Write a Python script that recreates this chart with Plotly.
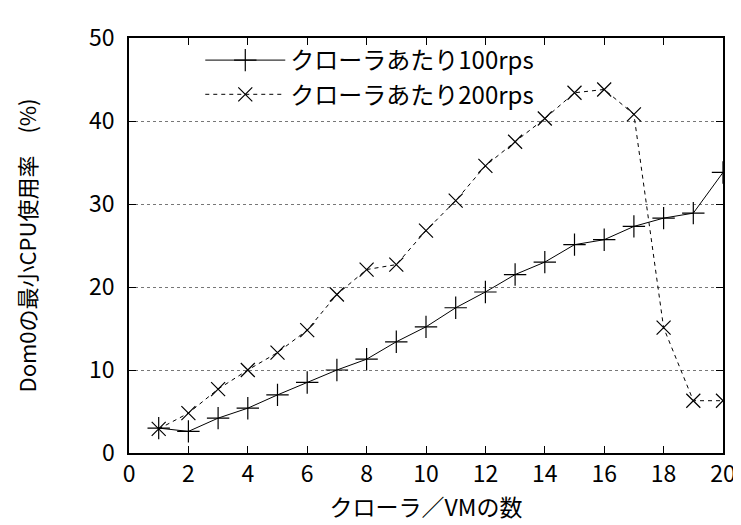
import plotly.graph_objects as go

vm_counts = list(range(1, 21))
rps100 = [3.0, 2.6, 4.2, 5.4, 7.0, 8.5, 10.0, 11.3, 13.4, 15.2,
          17.5, 19.4, 21.5, 23.0, 25.1, 25.7, 27.3, 28.3, 28.9, 33.8]
rps200 = [2.9, 4.8, 7.7, 10.0, 12.1, 14.8, 19.1, 22.1, 22.7, 26.8,
          30.4, 34.6, 37.5, 40.3, 43.4, 43.8, 40.8, 15.1, 6.3, 6.3]
series_names = ["クローラあたり100rps", "クローラあたり200rps"]
x_ticks = list(range(0, 21, 2))
y_ticks = list(range(0, 51, 10))

FONT = "Noto Sans CJK JP, sans-serif"

fig = go.Figure()
fig.add_trace(go.Scatter(
    x=vm_counts, y=rps100, name=series_names[0], mode="lines+markers",
    line=dict(color="black", width=1),
    marker=dict(symbol="cross-thin", size=16, line=dict(color="black", width=1.2)),
))
fig.add_trace(go.Scatter(
    x=vm_counts, y=rps200, name=series_names[1], mode="lines+markers",
    line=dict(color="black", width=1, dash="4px,4px"),
    marker=dict(symbol="x-thin", size=14, line=dict(color="black", width=1.2)),
))

axis_common = dict(
    showline=True, linecolor="black", linewidth=1.5, mirror="allticks",
    ticks="inside", ticklen=7, tickcolor="black", tickwidth=1,
    zeroline=False, tickfont=dict(family=FONT, size=23, color="black"),
)
fig.update_xaxes(range=[0, 20], tickvals=x_ticks, showgrid=False,
                 title=dict(text="クローラ／VMの数", font=dict(family=FONT, size=23, color="black"), standoff=12),
                 **axis_common)
fig.update_yaxes(range=[0, 50], tickvals=y_ticks, showgrid=True,
                 gridcolor="#777777", griddash="dot", gridwidth=1,
                 ticklabelstandoff=8,
                 title=dict(text="Dom0の最小CPU使用率　(%)", font=dict(family=FONT, size=22, color="black"), standoff=46),
                 **axis_common)

fig.update_layout(
    width=741, height=525,
    margin=dict(l=121, r=26, t=30, b=80),
    plot_bgcolor="white", paper_bgcolor="white",
    font=dict(family=FONT, size=24, color="black"),
    legend=dict(x=0.12, y=1.0, xanchor="left", yanchor="top",
                bgcolor="rgba(0,0,0,0)", font=dict(family=FONT, size=24),
                itemwidth=80, tracegroupgap=0),
)

fig.write_html("out.html")
